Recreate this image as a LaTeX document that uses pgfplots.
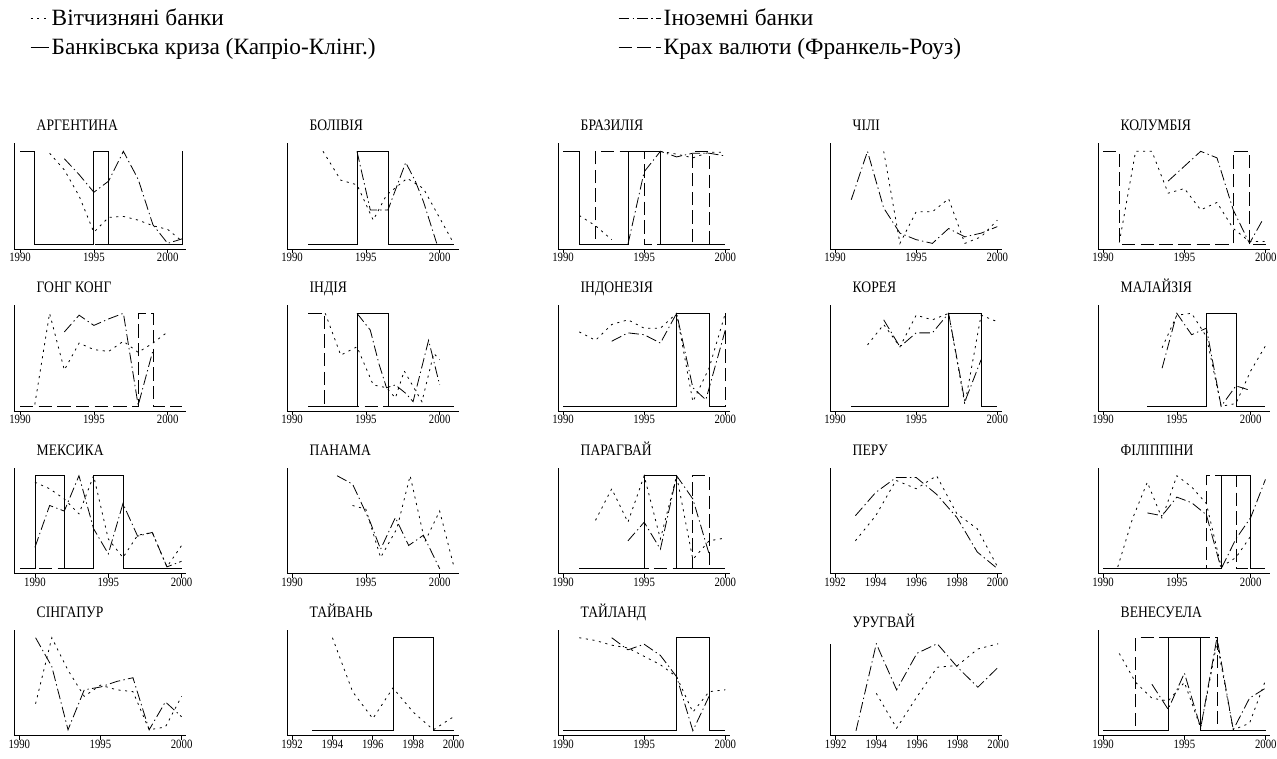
\documentclass[border=0pt]{standalone}
\usepackage{fontspec}
\setmainfont{Liberation Serif}[FakeStretch=0.85]
\newfontfamily\legfont{Liberation Serif}
\usepackage{pgfplots}
\pgfplotsset{compat=1.18}
\pgfplotsset{
 dom/.style={black, line width=0.6pt, dash pattern=on 1.6pt off 3.4pt},
 for/.style={black, line width=0.6pt, dash pattern=on 8pt off 2.5pt on 1pt off 2.5pt},
 cri/.style={black, line width=0.6pt, const plot},
 cur/.style={black, line width=0.6pt, const plot, dash pattern=on 10pt off 4pt},
 panel/.style={scale only axis, width=129pt, height=79.5pt, ymin=-0.054, ymax=1.086,
   axis x line*=bottom, axis y line*=left, axis line style={-, line width=0.6pt},
   ytick=\empty, xtick={1990,1995,2000}, tick align=outside, major tick length=3pt,
   every tick/.style={black, line width=0.5pt},
   /pgf/number format/1000 sep={}, /pgf/number format/assume math mode=true,
   x tick label style={font=\fontsize{9.5}{10}\selectfont, yshift=3.5pt},
   title style={at={(0,1)}, anchor=base west, xshift=13.5pt, yshift=3.5pt, font=\fontsize{12}{13}\selectfont},
   unbounded coords=jump, anchor=south west},
 evenyrs/.style={xtick={1992,1994,1996,1998,2000}},
 leg/.style={hide axis, scale only axis, width=1pt, height=1pt, xmin=0, xmax=1, ymin=0, ymax=1,
   anchor=north west, legend cell align=left,
   legend style={at={(0,1)}, anchor=north west, draw=none, fill=none, inner sep=0pt,
     font=\legfont\fontsize{17.5}{21}\selectfont, row sep=4.25pt}},
}
\begin{document}
\begin{tikzpicture}
\useasboundingbox (0,0) rectangle (957.75pt,568.5pt);
% legend
\begin{axis}[leg, at={(22.5pt,564pt)}, legend image code/.code={\draw[#1] (0pt,0pt) -- (13.5pt,0pt);}]
\addlegendimage{dom}\addlegendentry{Вітчизняні банки}
\addlegendimage{cri}\addlegendentry{Банківська криза (Капріо-Клінг.)}
\end{axis}
\begin{axis}[leg, at={(463.5pt,564pt)}, legend image code/.code={\draw[#1] (0pt,0pt) -- (31.5pt,0pt);}]
\addlegendimage{for}\addlegendentry{Іноземні банки}
\addlegendimage{cur}\addlegendentry{Крах валюти (Франкель-Роуз)}
\end{axis}
% ---------- row 1 ----------
\begin{axis}[panel, at={(10.5pt,381.5pt)}, xmin=1989.59, xmax=2001.24, title={АРГЕНТИНА}]
\addplot[cri] coordinates {(1990,1)(1991,0)(1995,1)(1996,0)(2001,1)};
\addplot[cur] coordinates {(1990,1)(1991,0)(2001,0)};
\addplot[dom] coordinates {(1992,0.98)(1993,0.8)(1994,0.52)(1995,0.13)(1996,0.29)(1997,0.3)(1998,0.26)(1999,0.2)(2000,0.16)(2001,0.03)};
\addplot[for] coordinates {(1993,0.92)(1994,0.75)(1995,0.56)(1996,0.68)(1997,1.0)(1998,0.7)(1999,0.21)(2000,0.01)(2001,0.06)};
\end{axis}
\begin{axis}[panel, at={(215.25pt,381.5pt)}, xmin=1989.66, xmax=2001.31, title={БОЛІВІЯ}]
\addplot[cri] coordinates {(1991.1,0)(1994.4,1)(1996.55,0)(2001,0)};
\addplot[dom] coordinates {(1992.1,1.0)(1993.3,0.69)(1994.4,0.64)(1995.5,0.26)(1996.4,0.53)(1997.8,0.71)(1998.9,0.6)(2000.95,0.01)};
\addplot[for] coordinates {(1994.4,1.0)(1995.3,0.37)(1996.5,0.37)(1997.7,0.88)(1998.35,0.68)(1998.9,0.46)(1999.8,0.01)};
\end{axis}
\begin{axis}[panel, at={(418.5pt,381.5pt)}, xmin=1989.69, xmax=2000.29, title={БРАЗИЛІЯ}]
\addplot[cri] coordinates {(1990,1)(1991,0)(1994,1)(1996,0)(2000,0)};
\addplot[cur] coordinates {(1990,1)(1991,0)(1992,1)(1995,0)(1998,1)(1999,0)(2000,0)};
\addplot[dom] coordinates {(1991,0.31)(1992,0.2)(1993,0.05)(1994,nan)(1996,1.0)(1997,0.97)(1998,0.93)(1999,0.99)(2000,0.99)};
\addplot[for] coordinates {(1994,0.0)(1995,0.78)(1996,1.0)(1997,0.94)(1998,0.98)(1999,0.98)(2000,0.95)};
\end{axis}
\begin{axis}[panel, at={(622.5pt,381.5pt)}, xmin=1989.69, xmax=2000.29, title={ЧІЛІ}]
\addplot[for] coordinates {(1991,0.48)(1992,1.0)(1993,0.39)(1994,0.12)(1995,0.05)(1996,0.01)(1997,0.17)(1998,0.08)(1999,0.12)(2000,0.19)};
\addplot[dom] coordinates {(1993,1.0)(1994,0.01)(1995,0.35)(1996,0.35)(1997,0.49)(1998,0.01)(1999,0.08)(2000,0.26)};
\end{axis}
\begin{axis}[panel, at={(823.5pt,381.5pt)}, xmin=1989.69, xmax=2000.26, title={КОЛУМБІЯ}]
\addplot[cur] coordinates {(1990,1)(1991,0)(1998,1)(1999,0)(2000,0)};
\addplot[dom] coordinates {(1991,0.02)(1992,1.0)(1993,1.0)(1994,0.55)(1995,0.6)(1996,0.37)(1997,0.45)(1998,0.17)(1999,0.03)(2000,0.03)};
\addplot[for] coordinates {(1994,0.68)(1995,0.84)(1996,1.0)(1997,0.93)(1998,0.37)(1999,0.01)(1999.8,0.26)};
\end{axis}
% ---------- row 2 ----------
\begin{axis}[panel, at={(10.5pt,260pt)}, xmin=1989.59, xmax=2001.24, title={ГОНГ КОНГ}]
\addplot[cur] coordinates {(1990,0)(1998,1)(1999,0)(2001,0)};
\addplot[dom] coordinates {(1991,0.02)(1992,1.0)(1993,0.39)(1994,0.68)(1995,0.61)(1996,0.59)(1997,0.7)(1998,0.58)(1999,0.68)(2000,0.8)};
\addplot[for] coordinates {(1993,0.8)(1994,0.98)(1995,0.87)(1996,0.94)(1997,1.0)(1998,0.01)(1999,0.6)};
\end{axis}
\begin{axis}[panel, at={(215.25pt,260pt)}, xmin=1989.66, xmax=2001.31, title={ІНДІЯ}]
\addplot[cur] coordinates {(1991.1,1)(1992.2,0)(2001,0)};
\addplot[cri] coordinates {(1991.1,0)(1994.4,1)(1996.55,0)(2001,0)};
\addplot[dom] coordinates {(1992.25,1.0)(1993.3,0.55)(1994.4,0.64)(1995.5,0.23)(1996.4,0.2)(1997,0.09)(1997.6,0.38)(1998.8,0.05)(1999.6,0.57)(2000,0.5)};
\addplot[for] coordinates {(1994.4,1.0)(1995.3,0.82)(1995.9,0.45)(1996.4,0.2)(1997,0.23)(1997.7,0.14)(1998.2,0.05)(1999.25,0.71)(2000,0.23)};
\end{axis}
\begin{axis}[panel, at={(418.5pt,260pt)}, xmin=1989.69, xmax=2000.29, title={ІНДОНЕЗІЯ}]
\addplot[cri] coordinates {(1990,0)(1997,1)(1999,0)(2000,0)};
\addplot[cur] coordinates {(1990,0)(1997,1)(1999,0)(2000,1)};
\addplot[dom] coordinates {(1991,0.8)(1992,0.71)(1993,0.88)(1994,0.93)(1995,0.84)(1996,0.84)(1997,1.0)(1998,0.05)(1999,0.41)(2000,1.0)};
\addplot[for] coordinates {(1993,0.7)(1994,0.79)(1995,0.77)(1996,0.68)(1997,1.0)(1998,0.2)(1998.8,0.07)(2000,0.82)};
\end{axis}
\begin{axis}[panel, at={(622.5pt,260pt)}, xmin=1989.69, xmax=2000.29, title={КОРЕЯ}]
\addplot[cri] coordinates {(1991,0)(1997,1)(1999,0)(2000,0)};
\addplot[cur] coordinates {(1991,0)(1997,1)(1999,0)(2000,0)};
\addplot[dom] coordinates {(1992,0.66)(1993,0.88)(1994,0.64)(1995,0.98)(1996,0.93)(1997,1.0)(1998,0.02)(1999,0.98)(2000,0.91)};
\addplot[for] coordinates {(1993,0.93)(1994,0.64)(1995,0.79)(1996,0.79)(1997,1.0)(1998,0.05)(1999,0.5)};
\end{axis}
\begin{axis}[panel, at={(823.5pt,260pt)}, xmin=1989.66, xmax=2001.31, title={МАЛАЙЗІЯ}]
\addplot[cri] coordinates {(1993,0)(1997,1)(1999,0)(2001,0)};
\addplot[dom] coordinates {(1994,0.63)(1995,0.98)(1996,1.0)(1997,0.75)(1998,0.0)(1999,0.03)(2000,0.38)(2001,0.65)};
\addplot[for] coordinates {(1994,0.41)(1995,1.0)(1996,0.77)(1997,0.84)(1998,0.0)(1999,0.22)(2000,0.17)};
\end{axis}
% ---------- row 3 ----------
\begin{axis}[panel, at={(10.5pt,138.2pt)}, xmin=1988.57, xmax=2000.3, title={МЕКСИКА}]
\addplot[cri] coordinates {(1989,0)(1990,1)(1992,0)(1994,1)(1996,0)(2000,0)};
\addplot[cur] coordinates {(1989,0)(1994,1)(1996,0)(2000,0)};
\addplot[dom] coordinates {(1990,0.93)(1991,0.86)(1992,0.75)(1993,0.59)(1994,1.0)(1995,0.32)(1996,0.12)(1997,0.36)(1998,0.39)(1999,0.02)(2000,0.25)};
\addplot[for] coordinates {(1990,0.23)(1991,0.68)(1992,0.62)(1993,1.0)(1994,0.43)(1995,0.16)(1996,0.7)(1997,0.35)(1998,0.39)(1999,0.02)(2000,0.08)};
\end{axis}
\begin{axis}[panel, at={(215.25pt,138.2pt)}, xmin=1989.66, xmax=2001.31, title={ПАНАМА}]
\addplot[for] coordinates {(1993.05,1.0)(1994.1,0.91)(1995.3,0.5)(1996,0.21)(1997,0.55)(1997.9,0.25)(1998.9,0.36)(2000,0.0)};
\addplot[dom] coordinates {(1994.1,0.68)(1995,0.64)(1996,0.12)(1997.1,0.43)(1998,1.0)(1999,0.29)(2000,0.62)(2001,0.0)};
\end{axis}
\begin{axis}[panel, at={(418.5pt,138.2pt)}, xmin=1989.69, xmax=2000.29, title={ПАРАГВАЙ}]
\addplot[cri] coordinates {(1991,0)(1995,1)(1997,0)(2000,0)};
\addplot[cur] coordinates {(1991,0)(1998,1)(1999,0)(2000,0)};
\addplot[dom] coordinates {(1992,0.52)(1993,0.86)(1994,0.5)(1995,1.0)(1996,0.32)(1997,1.0)(1998,0.1)(1999,0.3)(2000,0.33)};
\addplot[for] coordinates {(1994,0.3)(1995,0.5)(1996,0.21)(1997,1.0)(1998,0.75)(1999,0.16)};
\end{axis}
\begin{axis}[panel, evenyrs, at={(622.5pt,138.2pt)}, xmin=1991.75, xmax=2000.22, title={ПЕРУ}]
\addplot[for] coordinates {(1993,0.57)(1994,0.82)(1995,0.98)(1996,0.98)(1997,0.8)(1998,0.55)(1999,0.18)(2000,0.0)};
\addplot[dom] coordinates {(1993,0.3)(1994,0.57)(1995,0.95)(1996,0.86)(1997,1.0)(1998,0.59)(1999,0.43)(2000,0.02)};
\end{axis}
\begin{axis}[panel, at={(823.5pt,138.2pt)}, xmin=1989.66, xmax=2001.31, title={ФІЛІППІНИ}]
\addplot[cri] coordinates {(1990,0)(1998,1)(2000,0)(2001,0)};
\addplot[cur] coordinates {(1990,0)(1997,1)(1999,0)(2001,0)};
\addplot[dom] coordinates {(1991,0.02)(1992,0.54)(1993,0.93)(1994,0.54)(1995,1.0)(1996,0.88)(1997,0.7)(1998,0.02)(1999,0.12)(2000,0.35)};
\addplot[for] coordinates {(1993,0.6)(1994,0.57)(1995,0.77)(1996,0.71)(1997,0.58)(1998,0.0)(1999,0.32)(2000,0.55)(2001,0.96)};
\end{axis}
% ---------- row 4 ----------
\begin{axis}[panel, at={(10.5pt,16.7pt)}, xmin=1989.67, xmax=2000.27, title={СІНГАПУР}]
\addplot[for] coordinates {(1991,1.0)(1992,0.69)(1993,0.01)(1994,0.44)(1995,0.47)(1996,0.53)(1997,0.57)(1998,0.01)(1999,0.31)(2000,0.15)};
\addplot[dom] coordinates {(1991,0.29)(1992,1.0)(1993,0.65)(1994,0.37)(1995,0.49)(1996,0.44)(1997,0.42)(1998,0.01)(1999,0.04)(2000,0.37)};
\end{axis}
\begin{axis}[panel, evenyrs, at={(215.25pt,16.7pt)}, xmin=1991.75, xmax=2000.27, title={ТАЙВАНЬ}]
\addplot[cri] coordinates {(1993,0)(1997,1)(1999,0)(2000,0)};
\addplot[dom] coordinates {(1994,1.0)(1995,0.42)(1996,0.13)(1997,0.46)(1998,0.2)(1999,0.01)(2000,0.15)};
\end{axis}
\begin{axis}[panel, at={(418.5pt,16.7pt)}, xmin=1989.69, xmax=2000.29, title={ТАЙЛАНД}]
\addplot[cri] coordinates {(1990,0)(1997,1)(1999,0)(2000,0)};
\addplot[dom] coordinates {(1991,1.0)(1992,0.97)(1993,0.92)(1994,0.89)(1995,0.8)(1996,0.71)(1997,0.58)(1998,0.2)(1999,0.42)(2000,0.44)};
\addplot[for] coordinates {(1993,1.0)(1994,0.87)(1995,0.93)(1996,0.81)(1997,0.58)(1998,0.0)(1999,0.37)};
\end{axis}
\begin{axis}[panel, evenyrs, at={(622.5pt,16.7pt)}, xmin=1991.72, xmax=2000.19, height=69pt, ymin=-0.057, ymax=1.0, title={УРУГВАЙ}, title style={yshift=3pt}]
\addplot[for] coordinates {(1993,0.0)(1994,1.0)(1995,0.47)(1996,0.89)(1997,1.0)(1998,0.73)(1999,0.5)(2000,0.73)};
\addplot[dom] coordinates {(1994,0.43)(1995,0.03)(1996,0.39)(1997,0.73)(1998,0.75)(1999,0.94)(2000,1.0)};
\end{axis}
\begin{axis}[panel, at={(823.5pt,16.7pt)}, xmin=1989.69, xmax=2000.26, title={ВЕНЕСУЕЛА}]
\addplot[cri] coordinates {(1990,0)(1994,1)(1996,0)(2000,0)};
\addplot[cur] coordinates {(1990,0)(1992,1)(1997,0)(2000,0)};
\addplot[dom] coordinates {(1991,0.83)(1992,0.52)(1993,0.35)(1994,0.32)(1995,0.52)(1996,0.03)(1997,0.95)(1998,0.01)(1999,0.08)(2000,0.55)};
\addplot[for] coordinates {(1993,0.5)(1994,0.23)(1995,0.62)(1996,0.03)(1997,1.0)(1998,0.01)(1999,0.35)(2000,0.46)};
\end{axis}
\end{tikzpicture}
\end{document}
